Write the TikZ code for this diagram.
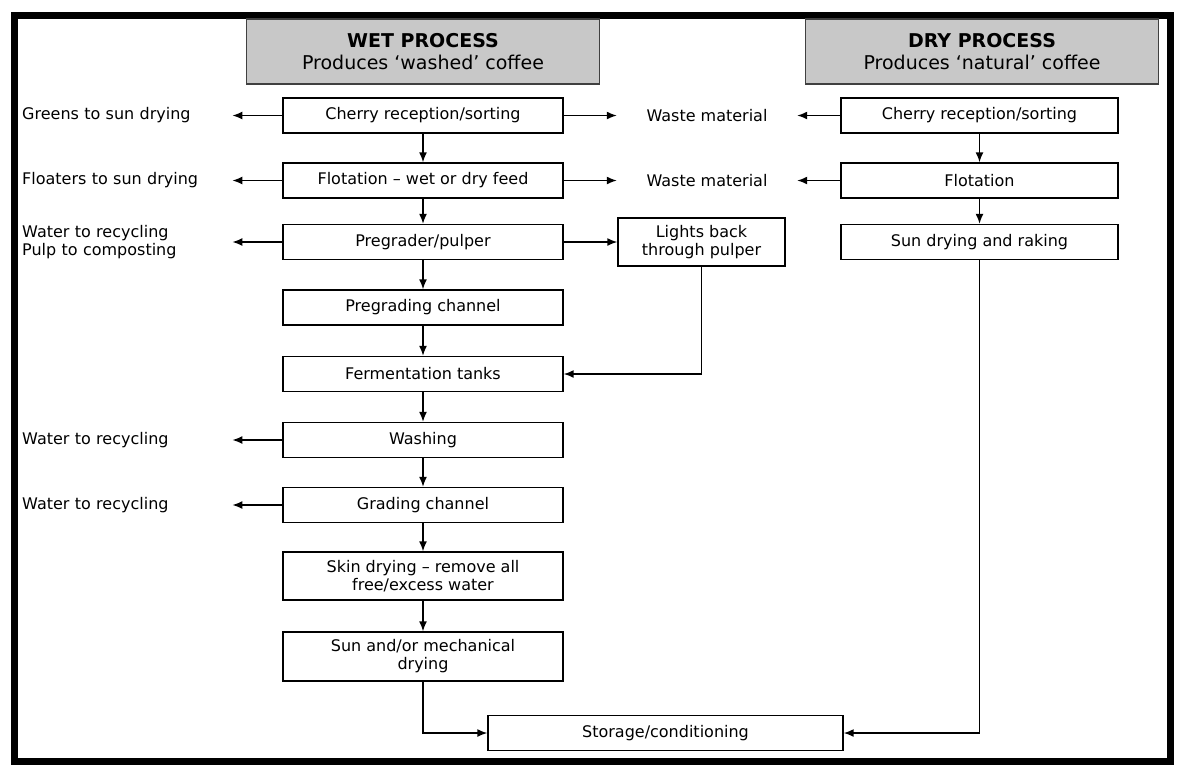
\documentclass[tikz,border=0pt]{standalone}
\usepackage{fontspec}
\setmainfont{DejaVu Sans}
\usetikzlibrary{arrows.meta}
\definecolor{headgray}{RGB}{200,200,200}

\begin{document}
\begin{tikzpicture}[%
    x = 1pt, y = -1pt,
    box/.style = {draw, line width = 1.4pt, minimum width = 280pt, minimum height = 35pt, inner sep = 0pt, align = center, font = \fontsize{16}{18}\selectfont},
    head/.style = {draw = black!75, line width = 1.6pt, fill = headgray, minimum width = 353pt, minimum height = 65pt, inner sep = 0pt, align = center, font = \fontsize{19}{22}\selectfont},
    side/.style = {anchor = west, text width = 210pt, align = left, inner sep = 0pt, font = \fontsize{16}{18}\selectfont},
    waste/.style = {minimum width = 180pt, inner sep = 0pt, font = \fontsize{16}{18}\selectfont},
    flow/.style = {line width = 1.5pt, -{Latex[length = 10pt, width = 8pt]}}]

    \useasboundingbox (0, 0) rectangle (1178, 764);
    \draw[line width = 7pt] (14, 15) rectangle (1170, 761);

    \node[head] (wethead) at (423, 51.5) {\textbf{WET PROCESS}\\Produces ‘washed’ coffee};
    \node[head] (dryhead) at (982, 51.5) {\textbf{DRY PROCESS}\\Produces ‘natural’ coffee};

    \node[box] (wcherry) at (423, 115.5) {Cherry reception/sorting};
    \node[box] (wflot) at (423, 180.5) {Flotation – wet or dry feed};
    \node[box] (wpulp) at (423, 242) {Pregrader/pulper};
    \node[box] (wchan) at (423, 307.5) {Pregrading channel};
    \node[box] (wferm) at (423, 374) {Fermentation tanks};
    \node[box] (wwash) at (423, 440) {Washing};
    \node[box] (wgrade) at (423, 505) {Grading channel};
    \node[box, minimum height = 48pt] (wskin) at (423, 576) {Skin drying – remove all\\free/excess water};
    \node[box, minimum height = 49pt] (wsun) at (423, 656.5) {Sun and/or mechanical\\drying};
    \node[box, minimum width = 355pt] (store) at (665.5, 733) {Storage/conditioning};

    \node[box, minimum width = 277pt] (dcherry) at (979.5, 115.5) {Cherry reception/sorting};
    \node[box, minimum width = 277pt] (dflot) at (979.5, 180.5) {Flotation};
    \node[box, minimum width = 277pt] (dsun) at (979.5, 242) {Sun drying and raking};

    \node[box, minimum width = 167pt, minimum height = 48pt] (lights) at (701.5, 242) {Lights back\\through pulper};

    \node[side] (greens) at (22, 115.5) {Greens to sun drying};
    \node[side] (floaters) at (22, 180.5) {Floaters to sun drying};
    \node[side] (pulpout) at (22, 242) {Water to recycling\\Pulp to composting};
    \node[side] (washout) at (22, 440) {Water to recycling};
    \node[side] (gradeout) at (22, 505) {Water to recycling};

    \node[waste] (waste1) at (707, 115.5) {Waste material};
    \node[waste] (waste2) at (707, 180.5) {Waste material};

    % wet line
    \draw[flow] (wcherry) -- (wflot);
    \draw[flow] (wflot) -- (wpulp);
    \draw[flow] (wpulp) -- (wchan);
    \draw[flow] (wchan) -- (wferm);
    \draw[flow] (wferm) -- (wwash);
    \draw[flow] (wwash) -- (wgrade);
    \draw[flow] (wgrade) -- (wskin);
    \draw[flow] (wskin) -- (wsun);
    \draw[flow] (wsun.south) |- (store.west);

    \draw[flow] (wcherry.west) -- (greens.east);
    \draw[flow] (wflot.west) -- (floaters.east);
    \draw[flow] (wpulp.west) -- (pulpout.east);
    \draw[flow] (wwash.west) -- (washout.east);
    \draw[flow] (wgrade.west) -- (gradeout.east);

    \draw[flow] (wcherry.east) -- (waste1.west);
    \draw[flow] (wflot.east) -- (waste2.west);
    \draw[flow] (wpulp.east) -- (lights.west);
    \draw[flow] (lights.south) |- (wferm.east);

    % dry line
    \draw[flow] (dcherry) -- (dflot);
    \draw[flow] (dflot) -- (dsun);
    \draw[flow] (dcherry.west) -- (waste1.east);
    \draw[flow] (dflot.west) -- (waste2.east);
    \draw[flow] (dsun.south) |- (store.east);
\end{tikzpicture}
\end{document}
